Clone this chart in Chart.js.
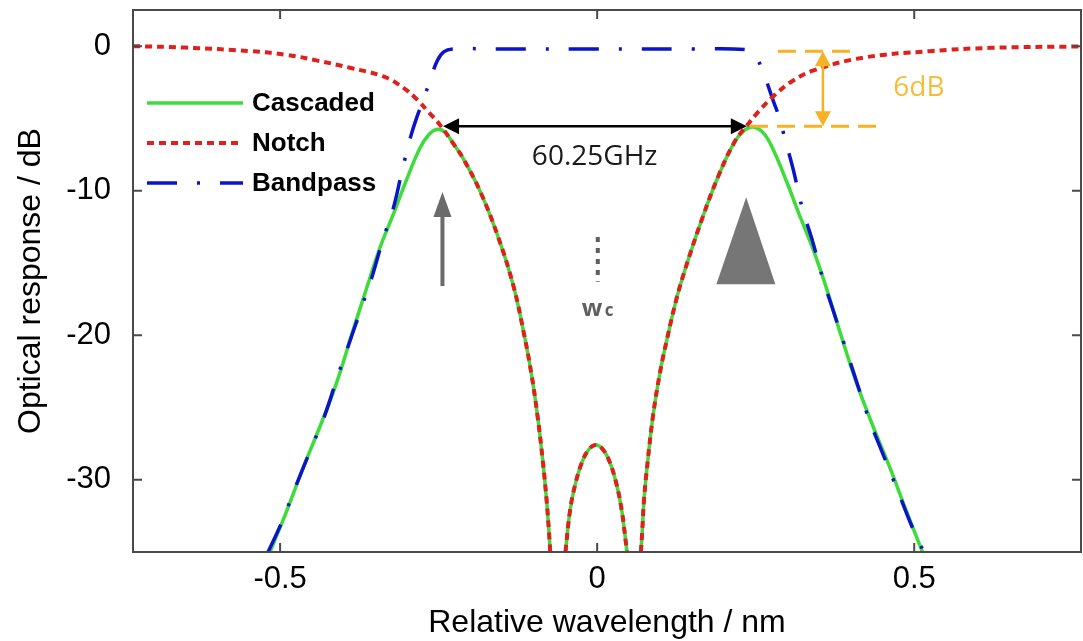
<!DOCTYPE html>
<html lang="en">
<head>
<meta charset="UTF-8">
<title>Optical response</title>
<script src="https://cdn.jsdelivr.net/npm/chart.js"></script>
<style>
  html, body { margin: 0; padding: 0; background: #fff; }
</style>
</head>
<body>
<canvas id="chart" width="1083" height="641"></canvas>
<script>
// values: x = relative wavelength (nm), y = response (dB)
// null marks where a curve drops out below the axis
const notchX = [-0.732, -0.65, -0.546, -0.49, -0.441, -0.39, -0.337, -0.305, -0.284, -0.265, -0.247, -0.226, -0.211, -0.184, -0.157, -0.132, -0.115, -0.104, -0.094, -0.086, -0.080, -0.076, -0.074, -0.062, -0.050, -0.043, -0.035, -0.024, -0.013, -0.002, 0.009, 0.020, 0.031, 0.039, 0.047, 0.058, 0.069, 0.071, 0.074, 0.080, 0.088, 0.099, 0.110, 0.125, 0.139, 0.165, 0.191, 0.217, 0.236, 0.255, 0.277, 0.305, 0.340, 0.419, 0.524, 0.62, 0.763];
const notchY = [0, -0.1, -0.35, -0.6, -1.0, -1.5, -2.1, -2.9, -3.7, -4.6, -5.5, -6.8, -7.8, -10.1, -13.1, -16.6, -20.0, -22.6, -25.6, -28.6, -31.3, -33.6, -35, null, -35, -32.2, -30.4, -28.8, -27.9, -27.6, -27.9, -28.8, -30.4, -32.2, -35, null, -35, -33.6, -31.3, -28.6, -25.6, -22.6, -20.3, -17.5, -15.4, -12.0, -9.0, -6.6, -5.5, -4.5, -3.5, -2.5, -1.7, -0.8, -0.35, -0.12, -0.02];

const cascX = [-0.516, -0.490, -0.463, -0.437, -0.411, -0.386, -0.364, -0.343, -0.323, -0.302, -0.280, -0.265, -0.252, -0.240, -0.226, -0.211, -0.184, -0.157, -0.132, -0.115, -0.104, -0.094, -0.086, -0.080, -0.076, -0.074, -0.062, -0.050, -0.043, -0.035, -0.024, -0.013, -0.002, 0.009, 0.020, 0.031, 0.039, 0.047, 0.058, 0.069, 0.071, 0.074, 0.080, 0.088, 0.099, 0.110, 0.125, 0.139, 0.165, 0.191, 0.217, 0.233, 0.246, 0.262, 0.277, 0.299, 0.320, 0.340, 0.362, 0.383, 0.409, 0.435, 0.461, 0.488, 0.513];
const cascY = [-35, -32.2, -29.1, -26.3, -23.3, -19.8, -16.8, -14.0, -11.8, -9.4, -7.1, -6.1, -5.75, -5.95, -6.8, -7.8, -10.1, -13.1, -16.6, -20.0, -22.6, -25.6, -28.6, -31.3, -33.6, -35, null, -35, -32.2, -30.4, -28.8, -27.9, -27.6, -27.9, -28.8, -30.4, -32.2, -35, null, -35, -33.6, -31.3, -28.6, -25.6, -22.6, -20.3, -17.5, -15.4, -12.0, -9.0, -6.6, -5.8, -5.6, -6.0, -7.1, -9.4, -11.8, -14.0, -16.8, -19.8, -23.3, -26.3, -29.1, -32.2, -35];

const bandX = [-0.519, -0.502, -0.489, -0.473, -0.447, -0.430, -0.409, -0.393, -0.371, -0.356, -0.338, -0.322, -0.307, -0.295, -0.285, -0.274, -0.263, -0.252, -0.242, -0.228, -0.15, 0, 0.15, 0.235, 0.248, 0.260, 0.277, 0.288, 0.296, 0.309, 0.324, 0.339, 0.356, 0.370, 0.391, 0.406, 0.427, 0.443, 0.469, 0.485, 0.498, 0.515];
const bandY = [-35, -33.4, -32.0, -30.2, -27.4, -25.6, -22.8, -20.8, -18.0, -16.1, -13.4, -11.3, -8.5, -6.4, -5.0, -3.7, -2.3, -1.0, -0.4, -0.2, -0.2, -0.2, -0.2, -0.25, -0.6, -1.6, -3.7, -5.05, -6.4, -8.5, -11.3, -13.4, -16.1, -18.0, -20.8, -22.8, -25.6, -27.4, -30.2, -32.0, -33.4, -35];

const xTicks = [-0.5, 0, 0.5];
const yTicks = [0, -10, -20, -30];

const labels = ["Cascaded", "Notch", "Bandpass"];

// annotation anchors, in data units
const spanArrow = { x1: -0.243, x2: 0.236, y: -5.54, text: "60.25GHz", tx: -0.004, ty: -8.2 };
const dbMarks = { top: -0.35, bottom: -5.54, topX: [0.285, 0.407], botX: [0.241, 0.446], arrowX: 0.356, text: "6dB", tx: 0.467, ty: -3.45 };
const upArrow = { x: -0.244, tail: -16.6, tip: -10.1 };
const triangle = { apex: [0.235, -10.45], left: [0.188, -16.47], right: [0.281, -16.47] };
const centerMark = { x: 0.001, y1: -13.2, y2: -16.3, ty: -18.7 };

const FONT = "'Liberation Sans', Arial, sans-serif";
const GREEN = "#3ddc3a", RED = "#e0201c", BLUE = "#0a14c8", ORANGE = "#f4b324", GREY = "#6b6b6b";

function pts(xs, ys) {
  return xs.map((x, i) => ({ x: x, y: ys[i] }));
}

function arrowHead(ctx, x, y, dx, dy, len, half) {
  // filled head with its tip at (x, y), pointing along (dx, dy)
  const n = Math.hypot(dx, dy), ux = dx / n, uy = dy / n;
  ctx.beginPath();
  ctx.moveTo(x, y);
  ctx.lineTo(x - ux * len - uy * half, y - uy * len + ux * half);
  ctx.lineTo(x - ux * len + uy * half, y - uy * len - ux * half);
  ctx.closePath();
  ctx.fill();
}

// frame, inward ticks, legend and the drawn-on labels
const overlay = {
  id: "overlay",
  afterDatasetsDraw(chart) {
    const ctx = chart.ctx;
    const a = chart.chartArea;
    const px = v => chart.scales.x.getPixelForValue(v);
    const py = v => chart.scales.y.getPixelForValue(v);
    ctx.save();

    // box and ticks
    ctx.strokeStyle = "#4a4a4a";
    ctx.lineWidth = 2;
    ctx.setLineDash([]);
    ctx.strokeRect(a.left, a.top, a.right - a.left, a.bottom - a.top);
    ctx.beginPath();
    xTicks.forEach(v => {
      const x = px(v);
      ctx.moveTo(x, a.bottom); ctx.lineTo(x, a.bottom - 9);
      ctx.moveTo(x, a.top); ctx.lineTo(x, a.top + 9);
    });
    yTicks.forEach(v => {
      const y = py(v);
      ctx.moveTo(a.left, y); ctx.lineTo(a.left + 9, y);
      ctx.moveTo(a.right, y); ctx.lineTo(a.right - 9, y);
    });
    ctx.stroke();

    // legend
    const ds = chart.data.datasets;
    ctx.font = "bold 26px " + FONT;
    ctx.textBaseline = "middle";
    ctx.textAlign = "left";
    ds.forEach((d, i) => {
      const y = a.top + 93 + i * 40;
      ctx.strokeStyle = d.borderColor;
      ctx.lineWidth = d.borderWidth;
      ctx.setLineDash(d.borderDash || []);
      ctx.beginPath();
      ctx.moveTo(147, y);
      ctx.lineTo(243, y);
      ctx.stroke();
      ctx.fillStyle = "#000";
      ctx.fillText(d.label, 252, y + 1);
    });
    ctx.setLineDash([]);

    // 60.25GHz span arrow
    ctx.strokeStyle = "#000";
    ctx.fillStyle = "#000";
    ctx.lineWidth = 2.5;
    const sy = py(spanArrow.y), sx1 = px(spanArrow.x1), sx2 = px(spanArrow.x2);
    ctx.beginPath();
    ctx.moveTo(sx1 + 12, sy); ctx.lineTo(sx2 - 12, sy);
    ctx.stroke();
    arrowHead(ctx, sx1, sy, -1, 0, 16, 8);
    arrowHead(ctx, sx2, sy, 1, 0, 16, 8);
    ctx.font = "28px 'Open Sans', sans-serif";
    ctx.textAlign = "center";
    ctx.textBaseline = "alphabetic";
    ctx.fillStyle = "#1a1a1a";
    ctx.fillText(spanArrow.text, px(spanArrow.tx), py(spanArrow.ty));

    // 6dB marker
    ctx.strokeStyle = ORANGE;
    ctx.fillStyle = ORANGE;
    ctx.lineWidth = 3;
    ctx.setLineDash([18, 9]);
    ctx.beginPath();
    ctx.moveTo(px(dbMarks.topX[0]), py(dbMarks.top)); ctx.lineTo(px(dbMarks.topX[1]), py(dbMarks.top));
    ctx.moveTo(px(dbMarks.botX[0]), py(dbMarks.bottom)); ctx.lineTo(px(dbMarks.botX[1]), py(dbMarks.bottom));
    ctx.stroke();
    ctx.setLineDash([]);
    const ax = px(dbMarks.arrowX), ay1 = py(dbMarks.top), ay2 = py(dbMarks.bottom);
    ctx.lineWidth = 2.5;
    ctx.beginPath();
    ctx.moveTo(ax, ay1 + 10); ctx.lineTo(ax, ay2 - 10);
    ctx.stroke();
    arrowHead(ctx, ax, ay1, 0, -1, 15, 8);
    arrowHead(ctx, ax, ay2, 0, 1, 15, 8);
    ctx.font = "28px 'Open Sans', sans-serif";
    ctx.textAlign = "left";
    ctx.fillStyle = "#f2be3c";
    ctx.fillText(dbMarks.text, px(dbMarks.tx), py(dbMarks.ty));

    // grey up arrow and triangle
    ctx.strokeStyle = GREY;
    ctx.fillStyle = GREY;
    ctx.lineWidth = 4;
    const ux = px(upArrow.x);
    ctx.beginPath();
    ctx.moveTo(ux, py(upArrow.tail)); ctx.lineTo(ux, py(upArrow.tip) + 20);
    ctx.stroke();
    arrowHead(ctx, ux, py(upArrow.tip), 0, -1, 25, 9);
    ctx.fillStyle = "#767676";
    ctx.beginPath();
    ctx.moveTo(px(triangle.apex[0]), py(triangle.apex[1]));
    ctx.lineTo(px(triangle.left[0]), py(triangle.left[1]));
    ctx.lineTo(px(triangle.right[0]), py(triangle.right[1]));
    ctx.closePath();
    ctx.fill();

    // centre wavelength mark
    const cx = px(centerMark.x);
    ctx.strokeStyle = "#5f5f5f";
    ctx.lineWidth = 4;
    ctx.setLineDash([5, 6]);
    ctx.beginPath();
    ctx.moveTo(cx, py(centerMark.y1)); ctx.lineTo(cx, py(centerMark.y2));
    ctx.stroke();
    ctx.setLineDash([]);
    ctx.fillStyle = "#5f5f5f";
    ctx.textAlign = "left";
    ctx.font = "bold 24px 'Open Sans', sans-serif";
    ctx.fillText("w", cx - 16, py(centerMark.ty));
    ctx.font = "bold 17px 'Open Sans', sans-serif";
    ctx.fillText("c", cx + 7, py(centerMark.ty));

    ctx.restore();
  }
};

new Chart(document.getElementById("chart"), {
  type: "line",
  data: {
    datasets: [
      { label: labels[0], data: pts(cascX, cascY), borderColor: GREEN, borderWidth: 3.5, order: 3 },
      { label: labels[1], data: pts(notchX, notchY), borderColor: RED, borderWidth: 4, borderDash: [7, 5], order: 1 },
      { label: labels[2], data: pts(bandX, bandY), borderColor: BLUE, borderWidth: 3.5, borderDash: [30, 20, 3, 20], order: 2 }
    ]
  },
  options: {
    responsive: false,
    animation: false,
    events: [],
    spanGaps: false,
    elements: {
      point: { radius: 0 },
      line: { tension: 0.4, fill: false }
    },
    layout: { padding: { top: 10, right: 2, left: 0, bottom: 0 } },
    plugins: { legend: { display: false }, tooltip: { enabled: false } },
    scales: {
      x: {
        type: "linear",
        min: -0.732,
        max: 0.763,
        grid: { display: false, drawTicks: false },
        border: { display: false },
        afterBuildTicks: s => { s.ticks = xTicks.map(v => ({ value: v })); },
        afterFit: s => { s.height = 89; s.paddingLeft = 0; s.paddingRight = 0; },
        ticks: { color: "#000", padding: 9, font: { family: FONT, size: 31 }, callback: v => String(v) },
        title: { display: true, text: "Relative wavelength / nm", color: "#000", padding: { top: 0, bottom: 0 }, font: { family: FONT, size: 32, lineHeight: 1.1 } }
      },
      y: {
        min: -35,
        max: 2.5,
        grid: { display: false, drawTicks: false },
        border: { display: false },
        afterBuildTicks: s => { s.ticks = yTicks.map(v => ({ value: v })); },
        afterFit: s => { s.width = 133; s.paddingTop = 0; s.paddingBottom = 0; },
        ticks: { color: "#000", padding: 22, font: { family: FONT, size: 31 }, callback: v => String(v) },
        title: { display: true, text: "Optical response / dB", color: "#000", padding: { top: 12, bottom: 0 }, font: { family: FONT, size: 32, lineHeight: 1.2 } }
      }
    }
  },
  plugins: [overlay]
});
</script>
</body>
</html>
